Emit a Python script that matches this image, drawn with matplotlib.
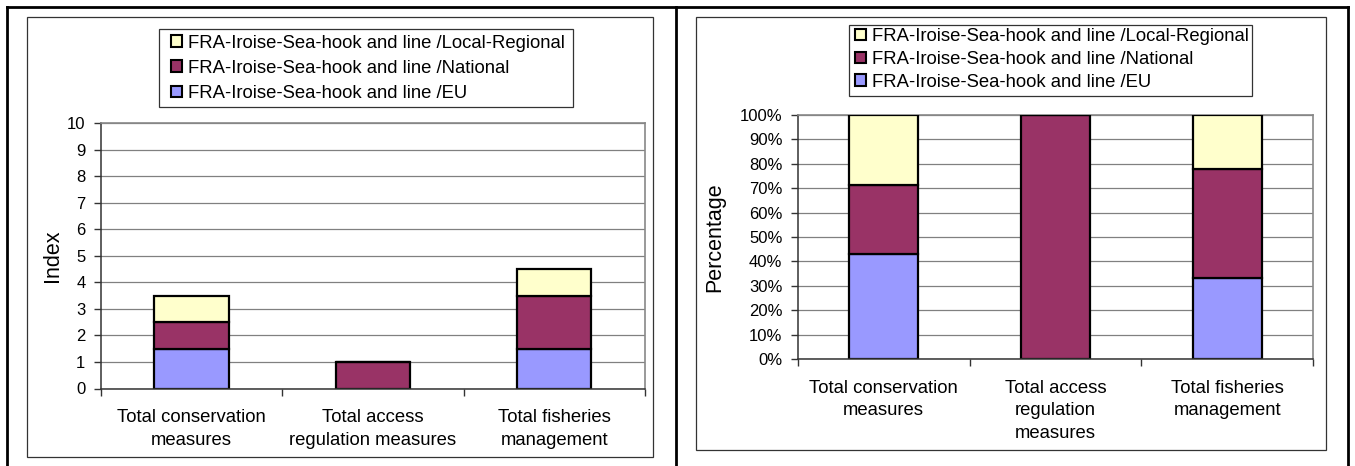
import matplotlib
matplotlib.use("Agg")
import matplotlib.pyplot as plt
from matplotlib.patches import Rectangle, Patch
from matplotlib.lines import Line2D
import numpy as np

plt.rcParams['font.family'] = ['Liberation Sans', 'DejaVu Sans']

# ---------------- data ----------------
categories_left = ["Total conservation\nmeasures", "Total access\nregulation measures",
                   "Total fisheries\nmanagement"]
categories_right = ["Total conservation\nmeasures", "Total access\nregulation\nmeasures",
                    "Total fisheries\nmanagement"]
series_names = ["FRA-Iroise-Sea-hook and line /EU",
                "FRA-Iroise-Sea-hook and line /National",
                "FRA-Iroise-Sea-hook and line /Local-Regional"]
eu_values = [1.5, 0.0, 1.5]
national_values = [1.0, 1.0, 2.0]
local_values = [1.0, 0.0, 1.0]
index_ticks = [0, 1, 2, 3, 4, 5, 6, 7, 8, 9, 10]
pct_ticks = [0, 10, 20, 30, 40, 50, 60, 70, 80, 90, 100]
pct_tick_labels = ["0%", "10%", "20%", "30%", "40%", "50%", "60%", "70%", "80%", "90%", "100%"]
series_colors = ["#9999FF", "#993366", "#FFFFCC"]

# ---------------- figure ----------------
W, H = 1355, 466
fig = plt.figure(figsize=(W / 100, H / 100), dpi=100)


def fx(x):
    return x / W


def fy(y):
    return 1 - y / H


def px_rect(x0, y0, x1, y1):
    return [fx(x0), fy(y1), fx(x1) - fx(x0), fy(y0) - fy(y1)]


# outer table border
for (xa, ya, xb, yb) in [(7, 7, 1348, 7), (7, 7, 7, 470), (1348, 7, 1348, 470), (676, 7, 676, 470)]:
    fig.add_artist(Line2D([fx(xa), fx(xb)], [fy(ya), fy(yb)], transform=fig.transFigure,
                          color="black", lw=2.0, solid_capstyle="projecting"))

# chart frames
for (x0, y0, x1, y1) in [(27, 17, 653, 457), (696, 17, 1326, 450)]:
    fig.add_artist(Rectangle((fx(x0), fy(y1)), fx(x1) - fx(x0), fy(y0) - fy(y1),
                             transform=fig.transFigure, fill=False, edgecolor="#333333", lw=0.9))

stack_series = [eu_values, national_values, local_values]
totals = np.sum(np.array(stack_series), axis=0)
pct_series = [list(np.array(s) / totals * 100) for s in stack_series]

TICK_FS = 12
LABEL_FS = 13.3
LEG_FS = 13.3


def draw_panel(ax, series, cats, bar_width, ylim, yticks, yticklabels):
    x = np.arange(len(cats))
    bottom = np.zeros(len(cats))
    for vals, col in zip(series, series_colors):
        vals = np.array(vals, dtype=float)
        ax.bar(x, vals, bar_width, bottom=bottom, color=col, edgecolor="black",
               linewidth=1.6, zorder=3)
        bottom = bottom + vals
    ax.set_xlim(-0.5, len(cats) - 0.5)
    ax.set_ylim(*ylim)
    ax.set_yticks(yticks)
    ax.set_yticklabels(yticklabels, fontsize=TICK_FS)
    ax.set_xticks(x)
    ax.set_xticklabels(cats, fontsize=LABEL_FS, linespacing=1.42)
    ax.set_xticks(np.arange(len(cats) + 1) - 0.5, minor=True)
    ax.tick_params(axis="x", which="major", length=0, pad=15)
    ax.tick_params(axis="x", which="minor", length=5, width=1, color="#333333", direction="out")
    ax.tick_params(axis="y", which="major", length=5, width=1, color="#333333", pad=6)
    ax.yaxis.grid(True, color="#808080", lw=0.9, zorder=0)
    ax.set_axisbelow(True)
    for s in ["top", "right"]:
        ax.spines[s].set_color("#888888")
        ax.spines[s].set_linewidth(1.2)
    for s in ["left", "bottom"]:
        ax.spines[s].set_color("#333333")
        ax.spines[s].set_linewidth(1.1)
    ax.spines["bottom"].set_zorder(4)


# left panel
axL = fig.add_axes(px_rect(100.7, 123, 645, 388.5))
draw_panel(axL, stack_series, categories_left, 0.41, (0, 10), index_ticks,
           [str(t) for t in index_ticks])
fig.text(fx(53), fy(256), "Index", rotation=90, ha="center", va="center", fontsize=15.5)

# right panel
axR = fig.add_axes(px_rect(797.7, 115, 1313.3, 359))
draw_panel(axR, pct_series, categories_right, 0.40, (0, 100), pct_ticks, pct_tick_labels)
fig.text(fx(715), fy(237.5), "Percentage", rotation=90, ha="center", va="center", fontsize=15.5)

# legends
handles = [Patch(facecolor=c, edgecolor="black", linewidth=1.5) for c in series_colors]
handles_rev = handles[::-1]
names_rev = series_names[::-1]


def draw_legend(box, handle_x, top_y, spacing):
    x0, y0, x1, y1 = box
    fig.add_artist(Rectangle((fx(x0), fy(y1)), fx(x1) - fx(x0), fy(y0) - fy(y1),
                             transform=fig.transFigure, fill=True, facecolor="white",
                             edgecolor="#333333", lw=0.9, zorder=5))
    leg = fig.legend(handles_rev, names_rev, loc="upper left",
                     bbox_to_anchor=(fx(handle_x), fy(top_y)), frameon=False,
                     fontsize=LEG_FS, borderpad=0, borderaxespad=0,
                     handlelength=0.6, handleheight=0.6, handletextpad=0.3,
                     labelspacing=spacing)
    leg.set_zorder(6)
    return leg


draw_legend((159, 29, 573, 107), 171, 34.5, 0.45)
draw_legend((849, 25, 1252, 96), 855, 28, 0.32)

fig.savefig("out.png", dpi=100)
